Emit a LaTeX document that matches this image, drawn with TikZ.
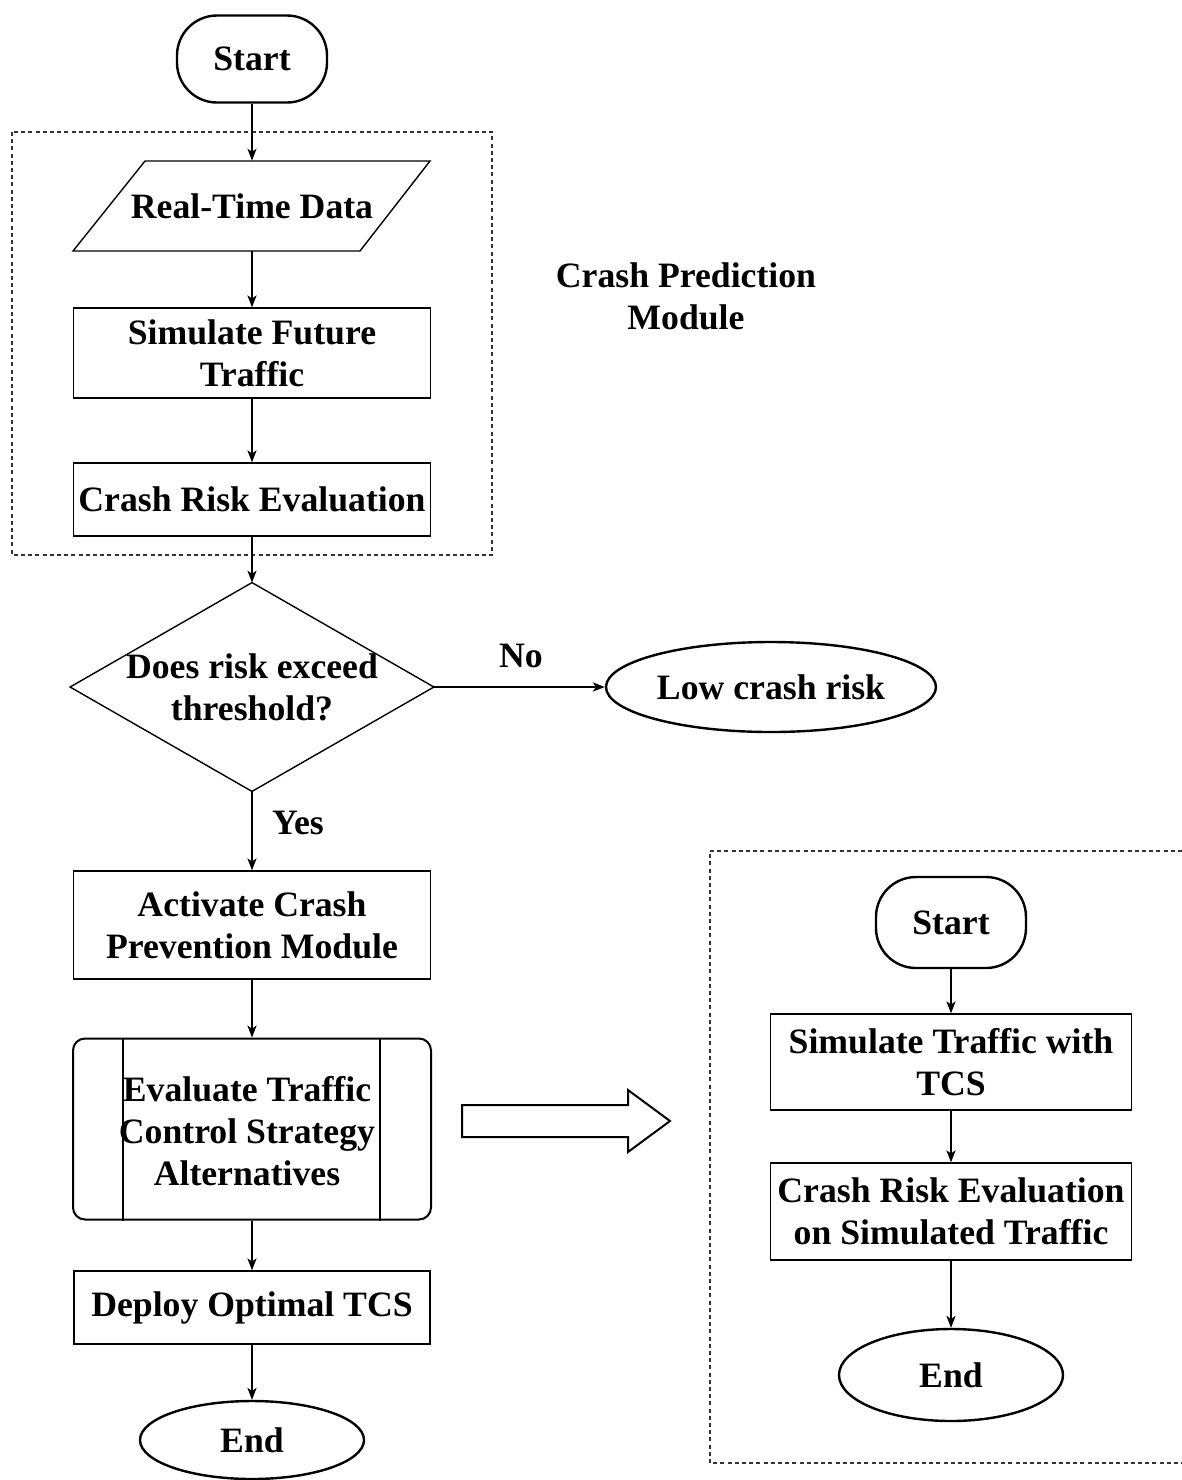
\documentclass[tikz,border=0pt]{standalone}
\usepackage{fontspec}
\setmainfont{Liberation Serif}
\usetikzlibrary{arrows.meta,shapes.geometric}
\begin{document}
\begin{tikzpicture}[x=0.5pt,y=-0.5pt,
  every node/.style={font=\bfseries\fontsize{17.85pt}{21pt}\selectfont, align=center, inner sep=0pt},
  term/.style={draw, rectangle, rounded corners=20pt, line width=1.2pt},
  oval/.style={draw, ellipse, line width=1.2pt},
  box/.style={draw, rectangle, line width=0.7pt},
  ghost/.style={rectangle},
  conn/.style={line width=0.65pt, -{Stealth[length=6pt,width=4.6pt,inset=1.6pt]}},
  dbox/.style={line width=0.6pt, dash pattern=on 2pt off 1.6pt, draw=black!80}
]
\useasboundingbox[fill=white] (0,0) rectangle (1182,1480);

% dashed module boxes
\draw[dbox] (12,132) rectangle (492,555);
\draw[dbox] (1182,851) -- (710,851) -- (710,1463) -- (1182,1463);

% left chain
\node[term, minimum width=75pt, minimum height=43.5pt] (start) at (252,59) {Start};
\node[ghost, minimum width=178.5pt, minimum height=45pt] (data) at (252,206) {Real-Time Data};
\draw[line width=0.7pt] (73,251) -- (360,251) -- (430,161) -- (145,161) -- cycle;
\node[box, minimum width=178.5pt, minimum height=45pt] (sim) at (252,353) {Simulate Future\\Traffic};
\node[box, minimum width=178.5pt, minimum height=36.5pt] (cre) at (252,499.5) {Crash Risk Evaluation};
\node[ghost, minimum width=181.5pt, minimum height=104pt] (dec) at (252,687) {Does risk exceed\\threshold?};
\draw[line width=0.7pt] (dec.north) -- (dec.east) -- (dec.south) -- (dec.west) -- cycle;
\node[oval, minimum width=165pt, minimum height=45pt] (low) at (771,687) {Low crash risk};
\node[box, minimum width=178.5pt, minimum height=54pt] (act) at (252,925) {Activate Crash\\Prevention Module};
\node[draw, rectangle, rounded corners=6pt, line width=1pt, minimum width=179pt, minimum height=90.5pt] (proc) at (252,1129) {};
\draw[line width=1pt] ([xshift=25.5pt]proc.north west) -- ([xshift=25.5pt]proc.south west);
\draw[line width=1pt] ([xshift=-26pt]proc.north east) -- ([xshift=-26pt]proc.south east);
\node (proctext) at (247,1131) {Evaluate Traffic\\Control Strategy\\Alternatives};
\node[box, minimum width=178pt, minimum height=36.5pt] (deploy) at (252,1307.5) {Deploy Optimal TCS};
\node[oval, minimum width=112pt, minimum height=39pt] (endA) at (252,1440) {End};

\draw[conn] (start.south) -- (data.north);
\draw[conn] (data.south) -- (sim.north);
\draw[conn] (sim.south) -- (cre.north);
\draw[conn] (cre.south) -- (dec.north);
\draw[conn] (dec.east) -- (low.west);
\draw[conn] (dec.south) -- (act.north);
\draw[conn] (act.south) -- (proc.north);
\draw[conn] (proc.south) -- (deploy.north);
\draw[conn] (deploy.south) -- (endA.north);

\node (no) at (521,656) {No};
\node (yes) at (298,823) {Yes};
\node (cpm) at (686,296) {Crash Prediction\\Module};

% block arrow
\draw[line width=1pt] (462,1105) -- (628,1105) -- (628,1090) -- (670,1121) -- (628,1152) -- (628,1137) -- (462,1137) -- cycle;

% right chain
\node[term, minimum width=75pt, minimum height=45.5pt] (start2) at (951,922.5) {Start};
\node[box, minimum width=180.5pt, minimum height=48pt] (sim2) at (951,1062) {Simulate Traffic with\\TCS};
\node[box, minimum width=180.5pt, minimum height=48.5pt] (cre2) at (951,1211.5) {Crash Risk Evaluation\\on Simulated Traffic};
\node[oval, minimum width=112pt, minimum height=46pt] (end2) at (951,1375) {End};

\draw[conn] (start2.south) -- (sim2.north);
\draw[conn] (sim2.south) -- (cre2.north);
\draw[conn] (cre2.south) -- (end2.north);
\end{tikzpicture}
\end{document}
